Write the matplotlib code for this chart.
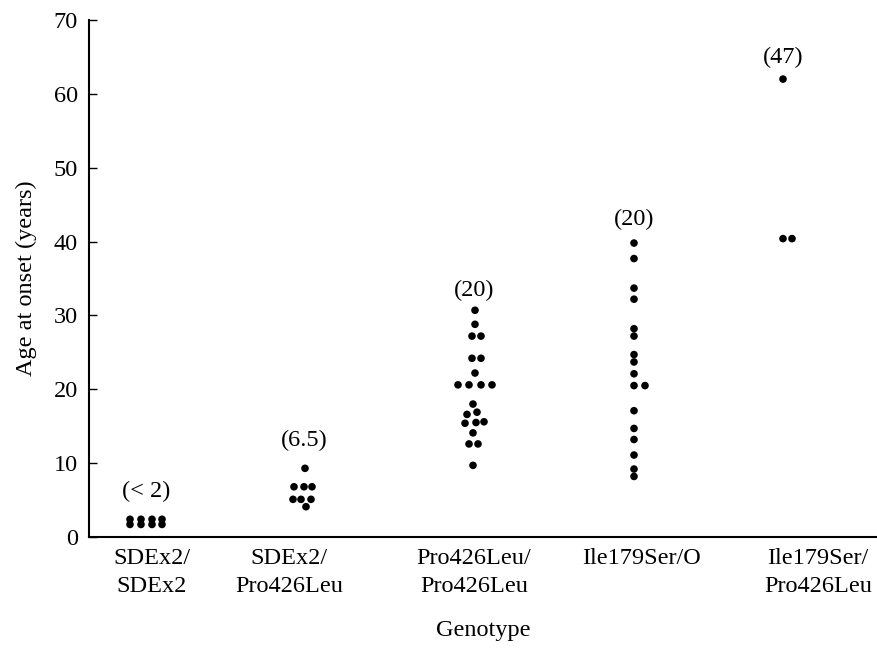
import matplotlib
matplotlib.use("Agg")
import matplotlib.pyplot as plt

# ---- data ----
genotypes = ["SDEx2/\nSDEx2", "SDEx2/\nPro426Leu", "Pro426Leu/\nPro426Leu",
             "Ile179Ser/O", "Ile179Ser/\nPro426Leu"]
medians = ["(< 2)", "(6.5)", "(20)", "(20)", "(47)"]

ages_g1 = [2.4, 2.4, 2.4, 2.4, 1.7, 1.7, 1.7, 1.7]
ages_g2 = [9.3, 6.8, 6.8, 6.8, 5.1, 5.1, 5.1, 4.1]
ages_g3 = [30.7, 28.8, 27.2, 27.2, 24.2, 24.2, 22.2, 20.6, 20.6, 20.6, 20.6,
           18.0, 16.6, 16.9, 15.4, 15.5, 15.6, 14.1, 12.6, 12.6, 9.7]
ages_g4 = [39.8, 37.7, 33.7, 32.2, 28.2, 27.2, 24.7, 23.7, 22.1, 20.5, 20.5,
           17.1, 14.7, 13.2, 11.1, 9.2, 8.2]
ages_g5 = [62.0, 40.4, 40.4]

# ---- layout (horizontal placement of dots, in axis units) ----
group_x = [146, 302, 475, 634, 787]
label_x = [152, 289, 474, 642, 818]
median_y = [6.2, 13.1, 33.4, 43.0, 64.9]
median_dx = [0, 2, -1, 0, -4]
off_g1 = [-16, -5, 6, 16, -16, -5, 6, 16]
off_g2 = [3, -8, 2, 10, -9, -1, 9, 4]
off_g3 = [0, 0, -3, 6, -3, 6, 0, -17, -6, 6, 17,
          -2, -8, 2, -10, 1, 9, -2, -6, 3, -2]
off_g4 = [0, 0, 0, 0, 0, 0, 0, 0, 0, 0, 11, 0, 0, 0, 0, 0, 0]
off_g5 = [-4, -4, 5]

groups = [ages_g1, ages_g2, ages_g3, ages_g4, ages_g5]
offsets = [off_g1, off_g2, off_g3, off_g4, off_g5]

plt.rcParams['font.family'] = ['Liberation Serif', 'DejaVu Serif']

fig = plt.figure(figsize=(8.77, 6.61), dpi=100)
ax = fig.add_axes([89 / 877, 1 - 537 / 661, 1 - 89 / 877, (537 - 20) / 661])

for cx, ages, offs in zip(group_x, groups, offsets):
    ax.scatter([cx + o for o in offs], ages, s=30, color='black',
               edgecolors='none', zorder=3, clip_on=False)

for cx, dx, my, txt in zip(group_x, median_dx, median_y, medians):
    ax.text(cx + dx, my, txt, ha='center', va='center', fontsize=17.5)

ax.set_xlim(89, 877)
ax.set_ylim(0, 70)
ax.set_yticks(range(0, 71, 10))
ax.tick_params(axis='y', direction='in', length=6, width=1, pad=8,
               labelsize=17.5)
ax.set_xticks(label_x)
ax.set_xticklabels(genotypes, fontsize=17.5, linespacing=1.45)
ax.tick_params(axis='x', length=0, pad=8)

ax.spines['top'].set_visible(False)
ax.spines['right'].set_visible(False)
ax.spines['left'].set_linewidth(1.5)
ax.spines['bottom'].set_linewidth(1.5)

ax.set_ylabel("Age at onset (years)", fontsize=17.5, labelpad=12)
ax.set_xlabel("Genotype", fontsize=17.5, labelpad=16)

fig.savefig("out.png", dpi=100)
